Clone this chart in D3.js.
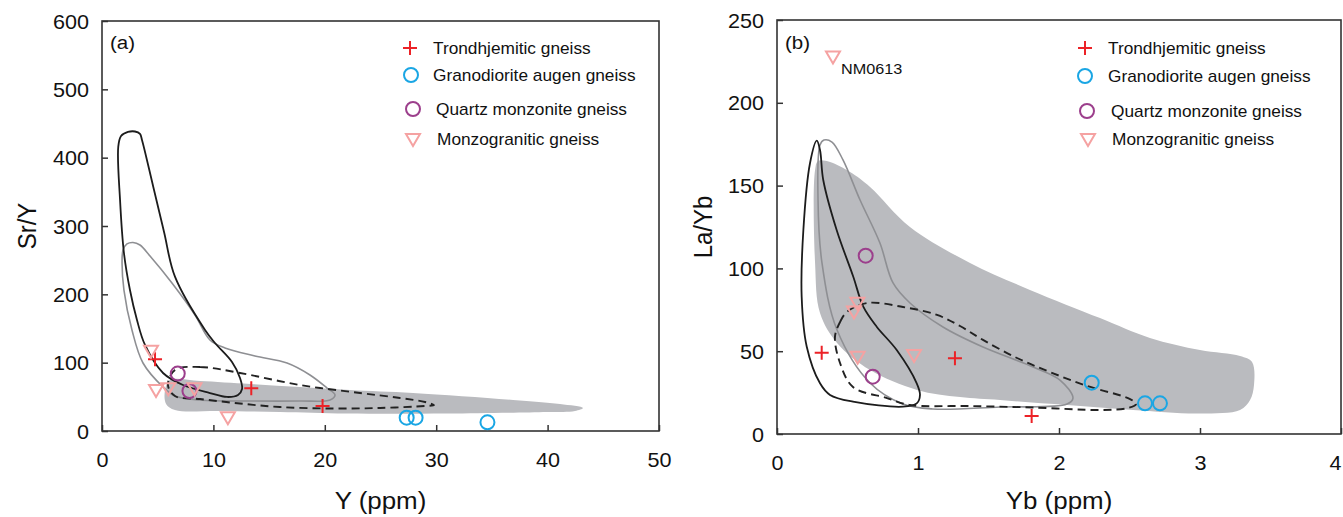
<!DOCTYPE html>
<html>
<head>
<meta charset="utf-8">
<script src="https://cdn.jsdelivr.net/npm/d3@7"></script>
<style>
  body { margin: 0; background: #fff; }
  svg { display: block; }
  text { font-family: "Liberation Sans", Arial, sans-serif; fill: #111; }
</style>
</head>
<body>
<svg id="chart" width="1343" height="517"></svg>
<script>
// ---------------- data ----------------
const seriesNames = ["Trondhjemitic gneiss", "Granodiorite augen gneiss", "Quartz monzonite gneiss", "Monzogranitic gneiss"];

// Panel (a): Y (ppm) vs Sr/Y
const aXTicks = [0, 10, 20, 30, 40, 50];
const aYTicks = [0, 100, 200, 300, 400, 500, 600];
const aTrondY = [4.76, 13.4, 19.8];
const aTrondSrY = [105, 62.5, 36.6];
const aGranoY = [27.35, 28.15, 34.6];
const aGranoSrY = [19.5, 19.5, 12.7];
const aQuartzY = [6.8, 7.85];
const aQuartzSrY = [84, 58.5];
const aMonzoY = [4.4, 4.85, 5.95, 8.3, 11.3];
const aMonzoSrY = [117.5, 60, 62.5, 62.5, 20];

// Panel (a) reference fields
const aFieldFill = [[6.1,74.6],[8.8,73.2],[13.29,68.8],[17.77,64.4],[22.26,60],[27.92,55.6],[36.9,45.4],[41.11,39.5],[43.18,33.7],[42.46,29.3],[39.95,27.8],[30.97,25.6],[21.99,25.6],[15.98,27.8],[10.59,29.3],[6.55,30.7],[5.75,39.5],[5.66,60]];
const aFieldBlack = [[1.46,416],[1.71,431.7],[2.33,437.6],[2.96,438.3],[3.41,434.7],[3.59,425.9],[4.6,357.5],[5.57,291.2],[6.55,225.8],[9.25,147.8],[10.14,128.8],[11.67,101],[12.39,77.6],[12.57,61.5],[12.21,52.7],[11.22,49.8],[9.69,55.6],[7.27,67.3],[5.48,84.9],[3.86,125.9],[3.14,162.4],[2.51,206.3],[1.97,260.5],[1.62,338]];
const aFieldGrey = [[1.89,264.9],[2.24,273.7],[2.78,275.9],[3.41,272.2],[4.31,256.1],[6.28,216.6],[8.35,169.8],[9.69,133.2],[11.04,121.5],[13.73,109.8],[16.61,99.5],[18.67,82],[20.2,62.9],[20.92,52.7],[20.47,45.4],[17.77,43.9],[13.29,43.9],[8.8,45.4],[6.55,51.2],[5.48,64.4],[3.68,99.5],[2.69,147.8],[1.97,206.3],[1.8,247.3]];
const aFieldDashed = [[6.55,89.3],[8.8,93.7],[12.39,84.9],[17.77,67.3],[23.16,55.6],[26.75,48.3],[29,42.4],[29.8,38],[29,36.6],[24.96,33.7],[20.47,32.9],[15.98,35.1],[12.39,40.2],[8.8,46.8],[6.55,51.2],[5.92,67.3]];

// Panel (b): Yb (ppm) vs La/Yb
const bXTicks = [0, 1, 2, 3, 4];
const bYTicks = [0, 50, 100, 150, 200, 250];
const bTrondYb = [0.317, 1.262, 1.806];
const bTrondLaYb = [49.1, 45.7, 10.9];
const bGranoYb = [2.232, 2.61, 2.716];
const bGranoLaYb = [31, 18.5, 18.5];
const bQuartzYb = [0.629, 0.679];
const bQuartzLaYb = [107.7, 34.6];
const bMonzoYb = [0.397, 0.57, 0.546, 0.572, 0.972];
const bMonzoLaYb = [228, 79.3, 73.9, 46.7, 47.7];
const bSampleLabel = "NM0613";

// Panel (b) reference fields
const bFieldFill = [[0.27,159.4],[0.291,164.9],[0.376,164.3],[0.518,158.2],[0.66,149.2],[0.943,125],[1.369,103.3],[1.794,87],[2.291,70],[2.645,58],[3.0,50.7],[3.284,47.1],[3.369,43.5],[3.383,29.6],[3.355,20.5],[3.284,14.5],[3.0,12.4],[2.525,14.5],[2.057,17.5],[1.582,20.5],[1.298,22.3],[0.993,26.6],[0.66,38.6],[0.426,55],[0.305,73.1],[0.27,103.3]];
const bFieldGrey = [[0.305,174.5],[0.333,177.5],[0.39,176.3],[0.468,165.5],[0.589,141.3],[0.73,115.3],[0.823,91.2],[0.943,79.1],[1.177,64.6],[1.461,52.5],[1.816,40.5],[2.007,32.6],[2.099,21.7],[2.057,18.1],[1.582,16.3],[1.106,15.1],[0.894,18.1],[0.66,30.8],[0.426,62.8],[0.319,103.3],[0.291,141.3]];
const bFieldBlack = [[0.282,177.1],[0.234,163.5],[0.187,123.2],[0.175,82.9],[0.211,52.7],[0.305,30.6],[0.376,23.6],[0.539,19.5],[0.894,16.5],[0.991,18.5],[1.014,23.6],[0.991,30.6],[0.849,50.7],[0.707,64.8],[0.612,76.9],[0.541,95],[0.423,123.2],[0.328,153.4],[0.305,171.5]];
const bFieldDashed = [[0.411,58.6],[0.447,67.6],[0.496,73.7],[0.638,79.1],[0.894,76.7],[1.135,71.9],[1.298,65.2],[1.461,56.8],[1.702,45.9],[1.936,37.4],[2.199,29],[2.504,21.1],[2.546,18.1],[2.489,15.7],[2.291,14.5],[1.816,16],[1.348,16.9],[0.943,17.5],[0.78,21.7],[0.539,28.4],[0.447,42.9]];

// ---------------- styles ----------------
const colors = { trond: "#ec2227", grano: "#1aa6e4", quartz: "#9c3f8c", monzo: "#f5a2a2" };
const STRETCH = 1.08;

const svg = d3.select("#chart");

const symbols = {
  plus: g => g.append("path").attr("d", "M-7,0H7M0,-7V7").attr("stroke", colors.trond).attr("stroke-width", 2).attr("fill", "none"),
  circleB: g => g.append("circle").attr("r", 7).attr("stroke", colors.grano).attr("stroke-width", 2).attr("fill", "none"),
  circleP: g => g.append("circle").attr("r", 7).attr("stroke", colors.quartz).attr("stroke-width", 2).attr("fill", "none"),
  tri: g => g.append("path").attr("d", "M-7,-5H7L0,7Z").attr("stroke", colors.monzo).attr("stroke-width", 2).attr("fill", "none").attr("stroke-linejoin", "miter")
};
const symbolOrder = ["plus", "circleB", "circleP", "tri"];

function label(g, x, y, str, size, anchor) {
  return g.append("text")
    .attr("transform", `translate(${x},${y}) scale(${STRETCH},1)`)
    .attr("text-anchor", anchor || "start")
    .attr("font-size", size)
    .text(str);
}

function drawPanel(cfg) {
  const g = svg.append("g");
  const x = d3.scaleLinear().domain(cfg.xDomain).range(cfg.xRange);
  const y = d3.scaleLinear().domain(cfg.yDomain).range(cfg.yRange);
  const shape = d3.line().x(d => x(d[0])).y(d => y(d[1])).curve(d3.curveCatmullRomClosed.alpha(0.5));

  // reference fields
  g.append("path").attr("d", shape(cfg.fill)).attr("fill", "#babbbf").attr("stroke", "none");
  g.append("path").attr("d", shape(cfg.grey)).attr("fill", "none").attr("stroke", "#8e8f93").attr("stroke-width", 1.6);
  g.append("path").attr("d", shape(cfg.black)).attr("fill", "none").attr("stroke", "#1c1c1c").attr("stroke-width", 1.8);
  g.append("path").attr("d", shape(cfg.dashed)).attr("fill", "none").attr("stroke", "#222").attr("stroke-width", 1.9).attr("stroke-dasharray", "8,5");

  // axes
  const xAxis = g.append("g").attr("transform", `translate(0,${cfg.yRange[0]})`)
    .call(d3.axisBottom(x).tickValues(cfg.xTicks).tickFormat(d3.format("d")).tickSizeInner(-6).tickSizeOuter(0).tickPadding(22));
  const yAxis = g.append("g").attr("transform", `translate(${cfg.xRange[0]},0)`)
    .call(d3.axisLeft(y).tickValues(cfg.yTicks).tickFormat(d3.format("d")).tickSizeInner(-6).tickSizeOuter(0).tickPadding(12));
  [xAxis, yAxis].forEach(ax => {
    ax.attr("font-family", null).attr("font-size", null);
    ax.select(".domain").remove();
    ax.selectAll(".tick line").attr("stroke", "#333").attr("stroke-width", 1.5);
    ax.selectAll(".tick text").attr("font-size", 20).attr("fill", "#111")
      .attr("transform", `scale(${STRETCH},1)`);
  });
  yAxis.selectAll(".tick text").attr("dy", "0.35em");
  // keep the last x label inside the page when the frame reaches the edge
  if (cfg.lastLabelEnd) {
    xAxis.selectAll(".tick text").filter(d => d === cfg.xTicks[cfg.xTicks.length - 1])
      .attr("text-anchor", "end").attr("x", 0);
  }

  // frame
  g.append("rect")
    .attr("x", cfg.xRange[0]).attr("y", cfg.yRange[1])
    .attr("width", cfg.xRange[1] - cfg.xRange[0]).attr("height", cfg.yRange[0] - cfg.yRange[1])
    .attr("fill", "none").attr("stroke", "#333").attr("stroke-width", 1.6);

  // samples
  cfg.series.forEach((s, i) => {
    s.xs.forEach((xv, j) => {
      const p = g.append("g").attr("transform", `translate(${x(xv)},${y(s.ys[j])})`);
      symbols[symbolOrder[i]](p);
    });
  });

  // legend
  cfg.legend.forEach((l, i) => {
    const p = g.append("g").attr("transform", `translate(${l.mx},${l.y})`);
    symbols[symbolOrder[i]](p);
    label(g, l.tx, l.y + 5.5, seriesNames[i], 16);
  });

  // panel tag and axis titles
  label(g, cfg.xRange[0] + 8, 49, cfg.tag, 19);
  label(g, (cfg.xRange[0] + cfg.xRange[1]) / 2, 509, cfg.xTitle, 24, "middle");
  g.append("text")
    .attr("transform", `translate(${cfg.yTitleX},${(cfg.yRange[0] + cfg.yRange[1]) / 2}) rotate(-90) scale(1,${STRETCH})`)
    .attr("text-anchor", "middle").attr("font-size", 24).text(cfg.yTitle);

  return { g, x, y };
}

drawPanel({
  xDomain: [0, 50], xRange: [102, 659],
  yDomain: [0, 600], yRange: [431, 21],
  xTicks: aXTicks, yTicks: aYTicks,
  fill: aFieldFill, grey: aFieldGrey, black: aFieldBlack, dashed: aFieldDashed,
  series: [
    { xs: aTrondY, ys: aTrondSrY },
    { xs: aGranoY, ys: aGranoSrY },
    { xs: aQuartzY, ys: aQuartzSrY },
    { xs: aMonzoY, ys: aMonzoSrY }
  ],
  legend: [
    { mx: 410, tx: 433, y: 48 },
    { mx: 411, tx: 433, y: 75 },
    { mx: 413, tx: 436, y: 109 },
    { mx: 413, tx: 437, y: 139 }
  ],
  tag: "(a)", xTitle: "Y (ppm)", yTitle: "Sr/Y", yTitleX: 36
});

const pb = drawPanel({
  xDomain: [0, 4], xRange: [777, 1341],
  yDomain: [0, 250], yRange: [434, 20],
  xTicks: bXTicks, yTicks: bYTicks,
  fill: bFieldFill, grey: bFieldGrey, black: bFieldBlack, dashed: bFieldDashed,
  series: [
    { xs: bTrondYb, ys: bTrondLaYb },
    { xs: bGranoYb, ys: bGranoLaYb },
    { xs: bQuartzYb, ys: bQuartzLaYb },
    { xs: bMonzoYb, ys: bMonzoLaYb }
  ],
  legend: [
    { mx: 1085, tx: 1108, y: 48 },
    { mx: 1085, tx: 1108, y: 76 },
    { mx: 1087, tx: 1111, y: 111 },
    { mx: 1088, tx: 1112, y: 139 }
  ],
  tag: "(b)", xTitle: "Yb (ppm)", yTitle: "La/Yb", yTitleX: 712,
  lastLabelEnd: true
});

// sample tag next to the highest La/Yb point
label(pb.g, pb.x(bMonzoYb[0]) + 8, pb.y(bMonzoLaYb[0]) + 18, bSampleLabel, 15);
</script>
</body>
</html>
